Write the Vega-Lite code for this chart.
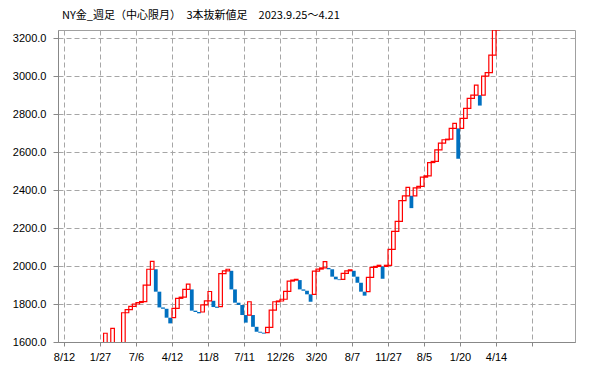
{
  "$schema": "https://vega.github.io/schema/vega-lite/v6.json",
  "width": 517,
  "height": 312,
  "autosize": {"type": "none"},
  "padding": {"left": 58, "top": 30, "right": 24, "bottom": 27},
  "background": "white",
  "title": {
    "text": "NY金_週足（中心限月）　3本抜新値足　2023.9.25～4.21",
    "anchor": "start",
    "frame": "group",
    "offset": 9,
    "dx": 4,
    "fontSize": 11,
    "fontWeight": "normal",
    "font": "Noto Sans CJK JP",
    "color": "#000000"
  },
  "data": {
    "values": [
      {"i": 11, "d": "u", "lo": 1560, "hi": 1646},
      {"i": 13, "d": "u", "lo": 1580, "hi": 1672},
      {"i": 16, "d": "u", "lo": 1590, "hi": 1754},
      {"i": 17, "d": "u", "lo": 1754, "hi": 1770},
      {"i": 18, "d": "u", "lo": 1770, "hi": 1788},
      {"i": 19, "d": "u", "lo": 1788, "hi": 1800},
      {"i": 20, "d": "u", "lo": 1800, "hi": 1808},
      {"i": 21, "d": "u", "lo": 1808, "hi": 1813},
      {"i": 22, "d": "u", "lo": 1813, "hi": 1900},
      {"i": 23, "d": "u", "lo": 1900, "hi": 1983},
      {"i": 24, "d": "u", "lo": 1983, "hi": 2025},
      {"i": 25, "d": "d", "lo": 1865, "hi": 1983},
      {"i": 26, "d": "d", "lo": 1782, "hi": 1865},
      {"i": 27, "d": "d", "lo": 1775, "hi": 1782},
      {"i": 28, "d": "d", "lo": 1728, "hi": 1775},
      {"i": 29, "d": "d", "lo": 1698, "hi": 1728},
      {"i": 30, "d": "u", "lo": 1728, "hi": 1777},
      {"i": 31, "d": "u", "lo": 1777, "hi": 1830},
      {"i": 32, "d": "u", "lo": 1830, "hi": 1836},
      {"i": 33, "d": "u", "lo": 1836, "hi": 1877},
      {"i": 34, "d": "u", "lo": 1877, "hi": 1905},
      {"i": 35, "d": "d", "lo": 1765, "hi": 1877},
      {"i": 36, "d": "d", "lo": 1758, "hi": 1765},
      {"i": 37, "d": "d", "lo": 1751, "hi": 1758},
      {"i": 38, "d": "u", "lo": 1758, "hi": 1795},
      {"i": 39, "d": "u", "lo": 1795, "hi": 1817},
      {"i": 40, "d": "u", "lo": 1817, "hi": 1866},
      {"i": 41, "d": "d", "lo": 1784, "hi": 1817},
      {"i": 42, "d": "d", "lo": 1780, "hi": 1786},
      {"i": 43, "d": "u", "lo": 1786, "hi": 1960},
      {"i": 44, "d": "u", "lo": 1960, "hi": 1975},
      {"i": 45, "d": "u", "lo": 1975, "hi": 1983},
      {"i": 46, "d": "d", "lo": 1877, "hi": 1975},
      {"i": 47, "d": "d", "lo": 1807, "hi": 1877},
      {"i": 48, "d": "d", "lo": 1795, "hi": 1807},
      {"i": 49, "d": "d", "lo": 1742, "hi": 1795},
      {"i": 50, "d": "d", "lo": 1702, "hi": 1742},
      {"i": 51, "d": "u", "lo": 1742, "hi": 1812},
      {"i": 52, "d": "d", "lo": 1680, "hi": 1742},
      {"i": 53, "d": "d", "lo": 1654, "hi": 1680},
      {"i": 54, "d": "d", "lo": 1649, "hi": 1654},
      {"i": 55, "d": "d", "lo": 1644, "hi": 1649},
      {"i": 56, "d": "u", "lo": 1649, "hi": 1677},
      {"i": 57, "d": "u", "lo": 1677, "hi": 1768},
      {"i": 58, "d": "u", "lo": 1768, "hi": 1812},
      {"i": 59, "d": "u", "lo": 1812, "hi": 1816},
      {"i": 60, "d": "u", "lo": 1816, "hi": 1825},
      {"i": 61, "d": "u", "lo": 1825, "hi": 1867},
      {"i": 62, "d": "u", "lo": 1867, "hi": 1921},
      {"i": 63, "d": "u", "lo": 1921, "hi": 1926},
      {"i": 64, "d": "u", "lo": 1926, "hi": 1930},
      {"i": 65, "d": "d", "lo": 1877, "hi": 1926},
      {"i": 66, "d": "d", "lo": 1870, "hi": 1877},
      {"i": 67, "d": "d", "lo": 1851, "hi": 1870},
      {"i": 68, "d": "d", "lo": 1812, "hi": 1851},
      {"i": 69, "d": "u", "lo": 1851, "hi": 1973},
      {"i": 70, "d": "u", "lo": 1973, "hi": 1984},
      {"i": 71, "d": "u", "lo": 1984, "hi": 1990},
      {"i": 72, "d": "u", "lo": 1990, "hi": 2023},
      {"i": 73, "d": "d", "lo": 1983, "hi": 1990},
      {"i": 74, "d": "d", "lo": 1944, "hi": 1983},
      {"i": 75, "d": "d", "lo": 1930, "hi": 1944},
      {"i": 76, "d": "d", "lo": 1926, "hi": 1930},
      {"i": 77, "d": "u", "lo": 1930, "hi": 1961},
      {"i": 78, "d": "u", "lo": 1961, "hi": 1975},
      {"i": 79, "d": "u", "lo": 1975, "hi": 1980},
      {"i": 80, "d": "d", "lo": 1944, "hi": 1975},
      {"i": 81, "d": "d", "lo": 1912, "hi": 1944},
      {"i": 82, "d": "d", "lo": 1865, "hi": 1912},
      {"i": 83, "d": "d", "lo": 1844, "hi": 1865},
      {"i": 84, "d": "u", "lo": 1865, "hi": 1940},
      {"i": 85, "d": "u", "lo": 1940, "hi": 1993},
      {"i": 86, "d": "u", "lo": 1993, "hi": 1998},
      {"i": 87, "d": "u", "lo": 1998, "hi": 2004},
      {"i": 88, "d": "d", "lo": 1933, "hi": 1998},
      {"i": 89, "d": "u", "lo": 1998, "hi": 2004},
      {"i": 90, "d": "u", "lo": 2004, "hi": 2088},
      {"i": 91, "d": "u", "lo": 2088, "hi": 2183},
      {"i": 92, "d": "u", "lo": 2183, "hi": 2235},
      {"i": 93, "d": "u", "lo": 2235, "hi": 2345},
      {"i": 94, "d": "u", "lo": 2345, "hi": 2370},
      {"i": 95, "d": "u", "lo": 2370, "hi": 2414},
      {"i": 96, "d": "d", "lo": 2305, "hi": 2370},
      {"i": 97, "d": "u", "lo": 2370, "hi": 2412},
      {"i": 98, "d": "u", "lo": 2412, "hi": 2420},
      {"i": 99, "d": "u", "lo": 2420, "hi": 2468},
      {"i": 100, "d": "u", "lo": 2468, "hi": 2475},
      {"i": 101, "d": "u", "lo": 2475, "hi": 2545},
      {"i": 102, "d": "u", "lo": 2545, "hi": 2551},
      {"i": 103, "d": "u", "lo": 2551, "hi": 2612},
      {"i": 104, "d": "u", "lo": 2612, "hi": 2647},
      {"i": 105, "d": "u", "lo": 2647, "hi": 2665},
      {"i": 106, "d": "u", "lo": 2665, "hi": 2668},
      {"i": 107, "d": "u", "lo": 2668, "hi": 2725},
      {"i": 108, "d": "u", "lo": 2725, "hi": 2751},
      {"i": 109, "d": "d", "lo": 2565, "hi": 2725},
      {"i": 110, "d": "u", "lo": 2725, "hi": 2778},
      {"i": 111, "d": "u", "lo": 2778, "hi": 2830},
      {"i": 112, "d": "u", "lo": 2830, "hi": 2883},
      {"i": 113, "d": "u", "lo": 2883, "hi": 2900},
      {"i": 114, "d": "u", "lo": 2900, "hi": 2953},
      {"i": 115, "d": "d", "lo": 2845, "hi": 2900},
      {"i": 116, "d": "u", "lo": 2900, "hi": 3000},
      {"i": 117, "d": "u", "lo": 3000, "hi": 3019},
      {"i": 118, "d": "u", "lo": 3019, "hi": 3111},
      {"i": 119, "d": "u", "lo": 3111, "hi": 3243},
      {"i": 120, "d": "u", "lo": 3243, "hi": 3350}
    ]
  },
  "encoding": {
    "x": {
      "field": "i",
      "type": "quantitative",
      "scale": {"domain": [-0.77, 140.05], "nice": false, "zero": false},
      "axis": {
        "title": null,
        "values": [-0.5, 9.5, 19.5, 29.5, 39.5, 49.5, 59.5, 69.5, 79.5, 89.5, 99.5, 109.5, 119.5, 129.5],
        "labelExpr": "['8/12','1/27','7/6','4/12','11/8','7/11','12/26','3/20','8/7','11/27','8/5','1/20','4/14',''][round((datum.value + 0.5) / 10)]",
        "labelFont": "Liberation Sans",
        "labelFontSize": 11,
        "labelColor": "#000000",
        "labelPadding": 5,
        "labelFlush": false,
        "labelOverlap": false,
        "tickSize": 4,
        "tickColor": "#888888",
        "domainColor": "#888888",
        "grid": true,
        "gridColor": "#a6a6a6",
        "gridDash": [5, 3]
      }
    },
    "y": {
      "field": "lo",
      "type": "quantitative",
      "scale": {"domain": [1600, 3243], "nice": false, "zero": false},
      "axis": {
        "title": null,
        "values": [1600, 1800, 2000, 2200, 2400, 2600, 2800, 3000, 3200],
        "format": ".1f",
        "labelFont": "Liberation Sans",
        "labelFontSize": 11,
        "labelColor": "#000000",
        "labelPadding": 7,
        "tickSize": 5,
        "tickColor": "#888888",
        "domainColor": "#888888",
        "grid": true,
        "gridColor": "#a6a6a6",
        "gridDash": [5, 3]
      }
    },
    "y2": {"field": "hi"}
  },
  "layer": [
    {
      "transform": [{"filter": "datum.d == 'd'"}],
      "mark": {"type": "bar", "width": 3.8, "fill": "#0070C0", "stroke": null, "clip": true}
    },
    {
      "transform": [{"filter": "datum.d == 'u'"}],
      "mark": {"type": "bar", "width": 3.6, "filled": false, "stroke": "#FF0000", "strokeWidth": 1.2, "clip": true}
    }
  ],
  "config": {
    "view": {"stroke": "#a0a0a0", "strokeWidth": 1}
  }
}
